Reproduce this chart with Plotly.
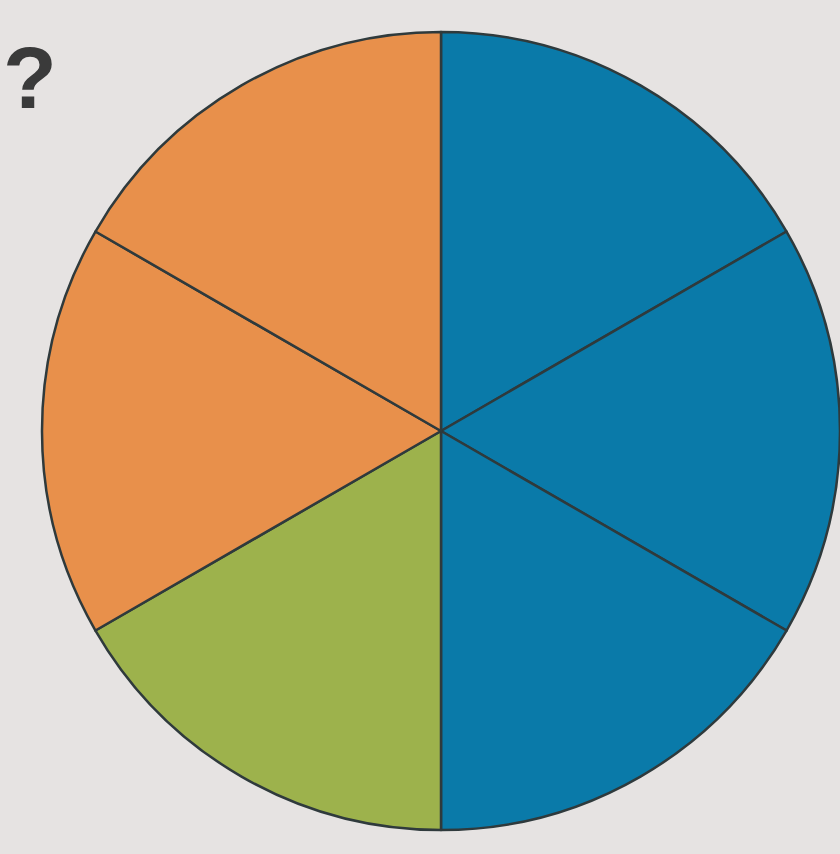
import plotly.graph_objects as go

labels = ["A", "B", "C", "D", "E", "F"]
values = [1, 1, 1, 1, 1, 1]
colors = ["#0A7AA9", "#0A7AA9", "#0A7AA9", "#9DB24C", "#E8904B", "#E8904B"]

W, H = 840, 854
cx, cy, r = 441, 431, 399
fig = go.Figure(go.Pie(
    labels=labels, values=values, sort=False, direction="clockwise", rotation=0,
    marker=dict(colors=colors, line=dict(color="#2F3A3C", width=2.5)),
    textinfo="none", hoverinfo="none", showlegend=False,
    domain=dict(x=[(cx - r) / W, 1.0], y=[1 - (cy + r) / H, 1 - (cy - r) / H]),
))
fig.add_annotation(text="<b>?</b>", x=30 / W, y=1 - 78 / H, xref="paper", yref="paper",
                   showarrow=False, font=dict(size=88, color="#3A3A3A", family="Liberation Sans"),
                   xanchor="center", yanchor="middle")
fig.update_layout(width=W, height=H, margin=dict(l=0, r=0, t=0, b=0),
                  paper_bgcolor="#E6E3E2", plot_bgcolor="#E6E3E2")
fig.write_html("out.html", config={"displayModeBar": False},
               post_script="document.body.style.margin='0';document.body.style.background='#E6E3E2';")
